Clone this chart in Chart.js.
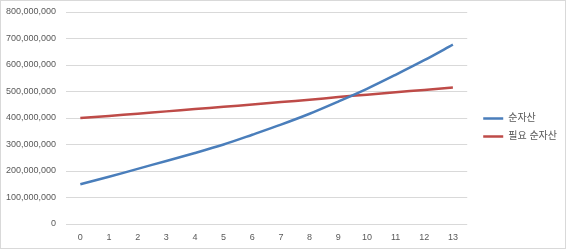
<!DOCTYPE html>
<html>
<head>
<meta charset="utf-8">
<script src="https://cdn.jsdelivr.net/npm/chart.js@4"></script>
<style>
  html, body { margin: 0; padding: 0; background: #ffffff; }
  #wrap { width: 567px; height: 250px; position: relative; }
</style>
</head>
<body>
<div id="wrap"><canvas id="c" width="567" height="250"></canvas></div>
<script>
const categories = ['0','1','2','3','4','5','6','7','8','9','10','11','12','13'];
const netAssets = [150000000, 178000000, 208000000, 238000000, 268000000, 300000000, 337000000, 375000000, 416000000, 462000000, 510000000, 563000000, 618000000, 677000000];
const requiredNetAssets = [400000000, 408000000, 416000000, 425000000, 434000000, 442000000, 451000000, 460000000, 469000000, 479000000, 488000000, 497000000, 506000000, 515000000];
const seriesNames = ['순자산', '필요 순자산'];
const yTickMin = 0, yTickMax = 800000000, yTickStep = 100000000;

const FONT = '"Liberation Sans", "Noto Sans CJK KR", sans-serif';
const TXT = '#595959';
const GRID = '#d9d9d9';

const bgBorder = {
  id: 'bgBorder',
  beforeDraw(chart) {
    const ctx = chart.ctx;
    ctx.save();
    ctx.fillStyle = '#ffffff';
    ctx.fillRect(0, 0, chart.width, chart.height);
    ctx.restore();
  },
  afterDraw(chart) {
    const ctx = chart.ctx;
    ctx.save();
    ctx.strokeStyle = GRID;
    ctx.lineWidth = 1;
    ctx.strokeRect(0.5, 0.5, chart.width - 2, chart.height - 2);
    ctx.restore();
  }
};

new Chart(document.getElementById('c'), {
  type: 'line',
  data: {
    labels: categories,
    datasets: [
      { label: seriesNames[0], data: netAssets, borderColor: '#4a7ebb', backgroundColor: '#4a7ebb', borderWidth: 2.5, pointRadius: 0, tension: 0.3, fill: false },
      { label: seriesNames[1], data: requiredNetAssets, borderColor: '#be4b48', backgroundColor: '#be4b48', borderWidth: 2.5, pointRadius: 0, tension: 0.3, fill: false }
    ]
  },
  options: {
    responsive: false,
    animation: false,
    devicePixelRatio: 1,
    layout: { padding: { top: 12, bottom: 7, left: 0, right: 0 } },
    plugins: {
      legend: {
        position: 'right',
        align: 'center',
        fullSize: true,
        labels: {
          usePointStyle: true,
          pointStyle: 'line',
          pointStyleWidth: 20,
          boxWidth: 20,
          padding: 8,
          color: TXT,
          font: { family: FONT, size: 10 }
        }
      },
      tooltip: { enabled: false }
    },
    scales: {
      x: {
        type: 'category',
        offset: true,
        grid: { display: false, drawTicks: false },
        border: { display: false },
        ticks: { color: TXT, padding: 8, font: { family: FONT, size: 9 }, maxRotation: 0, autoSkip: false },
        afterFit: s => { s.height = 19; }
      },
      y: {
        min: yTickMin, max: yTickMax,
        grid: { color: GRID, lineWidth: 1, drawTicks: false },
        border: { display: false },
        ticks: {
          stepSize: yTickStep, color: TXT, padding: 10,
          font: { family: FONT, size: 9 },
          callback: v => v === 0 ? '0' : Number(v).toLocaleString('en-US')
        },
        afterFit: s => { s.width = 66; s.paddingTop = 0; s.paddingBottom = 0; }
      },
      yPad: {
        position: 'right', min: 0, max: 1,
        grid: { display: false, drawTicks: false },
        border: { display: false },
        ticks: { display: false },
        afterFit: s => { s.width = 8; s.paddingTop = 0; s.paddingBottom = 0; }
      }
    }
  },
  plugins: [bgBorder]
});
</script>
</body>
</html>
